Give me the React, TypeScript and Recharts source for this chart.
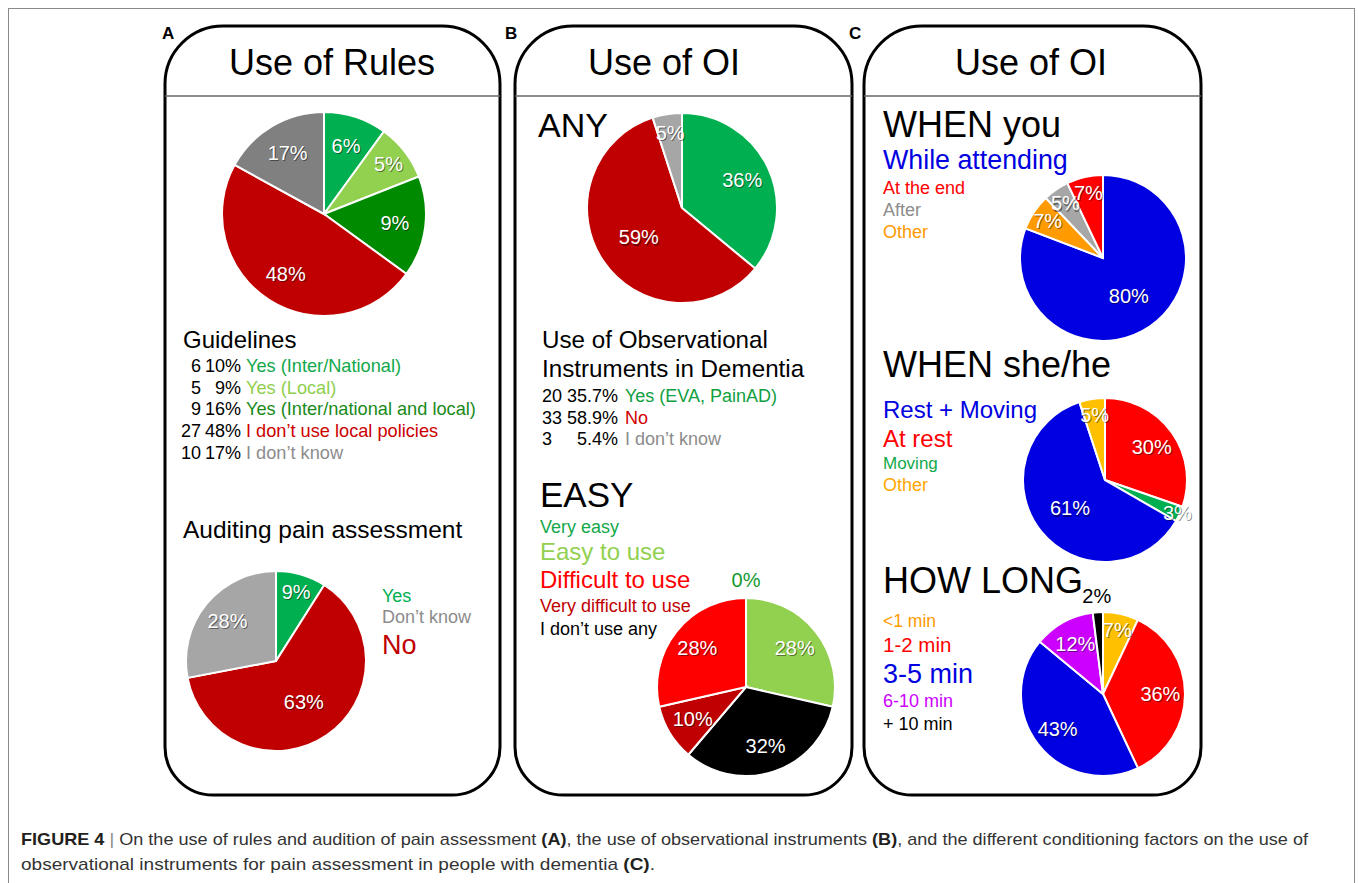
import React from 'react';
import { PieChart, Pie, Cell } from 'recharts';

const FONT = '"Liberation Sans", Arial, Helvetica, sans-serif';

// ---------- Panel A : guidelines ----------
const guidelineCats = ['Yes (Inter/National)', 'Yes (Local)', 'Yes (Inter/national and local)', 'I don’t use local policies', 'I don’t know'];
const guidelineValues = [10, 9, 16, 48, 17];
const guidelineSliceLabels = ['6%', '5%', '9%', '48%', '17%'];
const guidelineCounts = ['6', '5', '9', '27', '10'];
const guidelinePcts = ['10%', '9%', '16%', '48%', '17%'];
const guidelineColors = ['#00B050', '#92D050', '#008A00', '#C00000', '#808080'];
const guidelineTextColors = ['#12A84A', '#8FCF4E', '#1A8A1A', '#CC0000', '#8C8C8C'];

// ---------- Panel A : auditing ----------
const auditCats = ['Yes', 'No', 'Don’t know'];
const auditValues = [9, 63, 28];
const auditColors = ['#00B050', '#C00000', '#A6A6A6'];
const auditLegend = ['Yes', 'Don’t know', 'No'];
const auditLegendColors = ['#00B050', '#8C8C8C', '#C00000'];

// ---------- Panel B : ANY ----------
const anyCats = ['Yes (EVA, PainAD)', 'No', 'I don’t know'];
const anyValues = [36, 59, 5];
const anyCounts = ['20', '33', '3'];
const anyPcts = ['35.7%', '58.9%', '5.4%'];
const anyColors = ['#00B050', '#C00000', '#A6A6A6'];
const anyTextColors = ['#10A040', '#D00000', '#8C8C8C'];

// ---------- Panel B : EASY ----------
const easyCats = ['Very easy', 'Easy to use', 'I don’t use any', 'Very difficult to use', 'Difficult to use'];
const easyValues = [0, 28, 32, 10, 28];
const easyColors = ['#00B050', '#92D050', '#000000', '#C00000', '#FF0000'];
const easyLegend = ['Very easy', 'Easy to use', 'Difficult to use', 'Very difficult to use', 'I don’t use any'];
const easyLegendColors = ['#12A84A', '#92D050', '#FF0000', '#C00000', '#000000'];

// ---------- Panel C : WHEN you ----------
const whenYouCats = ['While attending', 'Other', 'After', 'At the end'];
const whenYouValues = [80, 7, 5, 7];
const whenYouColors = ['#0000E0', '#FF9A00', '#A6A6A6', '#FF0000'];
const whenYouLegend = ['While attending', 'At the end', 'After', 'Other'];
const whenYouLegendColors = ['#0000E0', '#FF0000', '#8C8C8C', '#FF9A00'];

// ---------- Panel C : WHEN she/he ----------
const sheHeCats = ['At rest', 'Moving', 'Rest + Moving', 'Other'];
const sheHeValues = [30, 3, 61, 5];
const sheHeColors = ['#FF0000', '#00B050', '#0000E0', '#FFC000'];
const sheHeLegend = ['Rest + Moving', 'At rest', 'Moving', 'Other'];
const sheHeLegendColors = ['#0000E0', '#FF0000', '#12A84A', '#FFA800'];

// ---------- Panel C : HOW LONG ----------
const howLongCats = ['<1 min', '1-2 min', '3-5 min', '6-10 min', '+ 10 min'];
const howLongValues = [7, 36, 43, 12, 2];
const howLongColors = ['#FFC000', '#FF0000', '#0000E0', '#CC00FF', '#000000'];
const howLongLegendColors = ['#FF9A00', '#FF0000', '#0000E0', '#CC00FF', '#000000'];

type Slice = { name: string; value: number; color: string; label: string };

function makeData(cats: string[], values: number[], colors: string[], labels?: string[]): Slice[] {
  return cats.map((c, i) => ({ name: c, value: values[i], color: colors[i], label: labels ? labels[i] : `${values[i]}%` }));
}

function PieBlock({ data, cx, cy, r, outsideColor = '#000' }: { data: Slice[]; cx: number; cy: number; r: number; outsideColor?: string }) {
  const pad = 34;
  const size = 2 * (r + pad);
  const renderLabel = (p: any) => {
    const { midAngle, percent, index } = p;
    const c = r + pad;
    let f = 0.7;
    let fill = '#fff';
    let shadow = true;
    if (percent < 0.025) { f = 1.2; fill = outsideColor; shadow = false; }
    else if (percent < 0.04) f = 0.97;
    else if (percent < 0.1) f = 0.8;
    else if (percent > 0.5) f = 0.55;
    const rad = (-midAngle * Math.PI) / 180;
    const x = c + r * f * Math.cos(rad);
    const y = c + r * f * Math.sin(rad);
    const t = data[index].label;
    const common = { textAnchor: 'middle' as const, dominantBaseline: 'central' as const, fontSize: 20, fontFamily: FONT };
    return (
      <g key={`lab-${index}`}>
        {shadow && <text x={x + 1} y={y + 1.2} fill="rgba(0,0,0,0.45)" {...common}>{t}</text>}
        <text x={x} y={y} fill={fill} {...common}>{t}</text>
      </g>
    );
  };
  return (
    <div style={{ position: 'absolute', left: cx - r - pad, top: cy - r - pad, width: size, height: size }}>
      <PieChart width={size} height={size} margin={{ top: 0, right: 0, bottom: 0, left: 0 }}>
        <Pie
          data={data}
          dataKey="value"
          nameKey="name"
          cx={r + pad}
          cy={r + pad}
          outerRadius={r}
          startAngle={90}
          endAngle={-270}
          stroke="#ffffff"
          strokeWidth={2}
          isAnimationActive={false}
          labelLine={false}
          label={renderLabel}
        >
          {data.map((d, i) => (
            <Cell key={i} fill={d.color} />
          ))}
        </Pie>
      </PieChart>
    </div>
  );
}

function panelPath(x0: number, x1: number, y0: number, y1: number, rt: number, rb: number) {
  return `M ${x0} ${y0 + rt} A ${rt} ${rt} 0 0 1 ${x0 + rt} ${y0} L ${x1 - rt} ${y0} A ${rt} ${rt} 0 0 1 ${x1} ${y0 + rt} L ${x1} ${y1 - rb} A ${rb} ${rb} 0 0 1 ${x1 - rb} ${y1} L ${x0 + rb} ${y1} A ${rb} ${rb} 0 0 1 ${x0} ${y1 - rb} Z`;
}

const panels = [
  { x0: 165, x1: 500, letter: 'A', lx: 162 },
  { x0: 515, x1: 852, letter: 'B', lx: 505 },
  { x0: 864, x1: 1201, letter: 'C', lx: 849 },
];

export default function App() {
  const T = (x: number, y: number, size: number, fill: string, text: string, anchor: 'start' | 'middle' | 'end' = 'start', weight: string | number = 'normal') => (
    <text x={x} y={y} fontSize={size} fill={fill} fontFamily={FONT} textAnchor={anchor} fontWeight={weight}>{text}</text>
  );
  return (
    <div style={{ position: 'absolute', left: 0, top: 0, width: 1358, height: 883, background: '#fff', overflow: 'hidden' }}>
      <svg width={1358} height={883} style={{ position: 'absolute', left: 0, top: 0 }}>
        <rect x={8.5} y={8.5} width={1346} height={900} fill="none" stroke="#8a8a8a" strokeWidth={1} />
        {panels.map((p) => (
          <g key={p.letter}>
            <path d={panelPath(p.x0, p.x1, 26, 795, 58, 48)} fill="none" stroke="#000" strokeWidth={3} />
            <line x1={p.x0} x2={p.x1} y1={96} y2={96} stroke="#666" strokeWidth={1.5} />
            {T(p.lx, 39, 17, '#000', p.letter, 'start', 'bold')}
          </g>
        ))}
        {/* titles */}
        {T(332, 75, 36, '#000', 'Use of Rules', 'middle')}
        {T(664, 75, 36, '#000', 'Use of OI', 'middle')}
        {T(1031, 75, 36, '#000', 'Use of OI', 'middle')}

        {/* Panel A legend */}
        {T(183, 348, 24, '#000', 'Guidelines')}
        {guidelineCats.map((c, i) => {
          const y = 372 + i * 21.7;
          return (
            <g key={c}>
              {T(201, y, 18, '#000', guidelineCounts[i], 'end')}
              {T(241, y, 18, '#000', guidelinePcts[i], 'end')}
              {T(246, y, 18.2, guidelineTextColors[i], c)}
            </g>
          );
        })}
        {T(183, 538, 24.5, '#000', 'Auditing pain assessment')}
        {auditLegend.map((c, i) => (
          <g key={c}>{T(382, [602, 623, 654][i], i === 2 ? 27 : 18, auditLegendColors[i], c)}</g>
        ))}

        {/* Panel B */}
        {T(538, 137, 34, '#000', 'ANY')}
        {T(542, 348, 24.2, '#000', 'Use of Observational')}
        {T(542, 377, 24.2, '#000', 'Instruments in Dementia')}
        {anyCats.map((c, i) => {
          const y = 402 + i * 21.5;
          return (
            <g key={c}>
              {T(542, y, 18, '#000', anyCounts[i])}
              {T(618, y, 18, '#000', anyPcts[i], 'end')}
              {T(625, y, 18, anyTextColors[i], c)}
            </g>
          );
        })}
        {T(540, 507, 35, '#000', 'EASY')}
        {easyLegend.map((c, i) => (
          <g key={c}>{T(540, [533, 560, 588, 612, 635][i], [18, 24, 24, 18, 18][i], easyLegendColors[i], c)}</g>
        ))}

        {/* Panel C */}
        {T(883, 137, 36, '#000', 'WHEN you')}
        {whenYouLegend.map((c, i) => (
          <g key={c}>{T(883, [169, 194, 216, 238][i], [26.8, 18, 18, 18][i], whenYouLegendColors[i], c)}</g>
        ))}
        {T(883, 377, 36, '#000', 'WHEN she/he')}
        {sheHeLegend.map((c, i) => (
          <g key={c}>{T(883, [418, 447, 469, 491][i], [24, 24, 17, 18][i], sheHeLegendColors[i], c)}</g>
        ))}
        {T(883, 593, 36, '#000', 'HOW LONG')}
        {howLongCats.map((c, i) => (
          <g key={c}>{T(883, [627, 652, 683, 707, 730][i], [17.5, 20.5, 27, 18, 18][i], howLongLegendColors[i], c)}</g>
        ))}

        {/* caption */}
        <text x={21} y={845} fontSize={17} fill="#333" fontFamily={FONT} textLength={1287} lengthAdjust="spacingAndGlyphs">
          <tspan fontWeight="bold" fill="#231F20">FIGURE 4</tspan>
          <tspan fill="#888"> | </tspan>
          <tspan>On the use of rules and audition of pain assessment </tspan>
          <tspan fontWeight="bold" fill="#231F20">(A)</tspan>
          <tspan>, the use of observational instruments </tspan>
          <tspan fontWeight="bold" fill="#231F20">(B)</tspan>
          <tspan>, and the different conditioning factors on the use of</tspan>
        </text>
        <text x={21} y={870} fontSize={17} fill="#333" fontFamily={FONT} textLength={634} lengthAdjust="spacingAndGlyphs">
          <tspan>observational instruments for pain assessment in people with dementia </tspan>
          <tspan fontWeight="bold" fill="#231F20">(C)</tspan>
          <tspan>.</tspan>
        </text>
      </svg>

      <PieBlock data={makeData(guidelineCats, guidelineValues, guidelineColors, guidelineSliceLabels)} cx={324} cy={214} r={102} />
      <PieBlock data={makeData(auditCats, auditValues, auditColors)} cx={276} cy={661} r={90} />
      <PieBlock data={makeData(anyCats, anyValues, anyColors)} cx={682} cy={208} r={95} />
      <PieBlock data={makeData(easyCats, easyValues, easyColors)} cx={746} cy={687} r={89} outsideColor="#139A2E" />
      <PieBlock data={makeData(whenYouCats, whenYouValues, whenYouColors)} cx={1103} cy={258} r={83} />
      <PieBlock data={makeData(sheHeCats, sheHeValues, sheHeColors)} cx={1105} cy={480} r={82} />
      <PieBlock data={makeData(howLongCats, howLongValues, howLongColors)} cx={1103} cy={694} r={82} outsideColor="#000" />
    </div>
  );
}
